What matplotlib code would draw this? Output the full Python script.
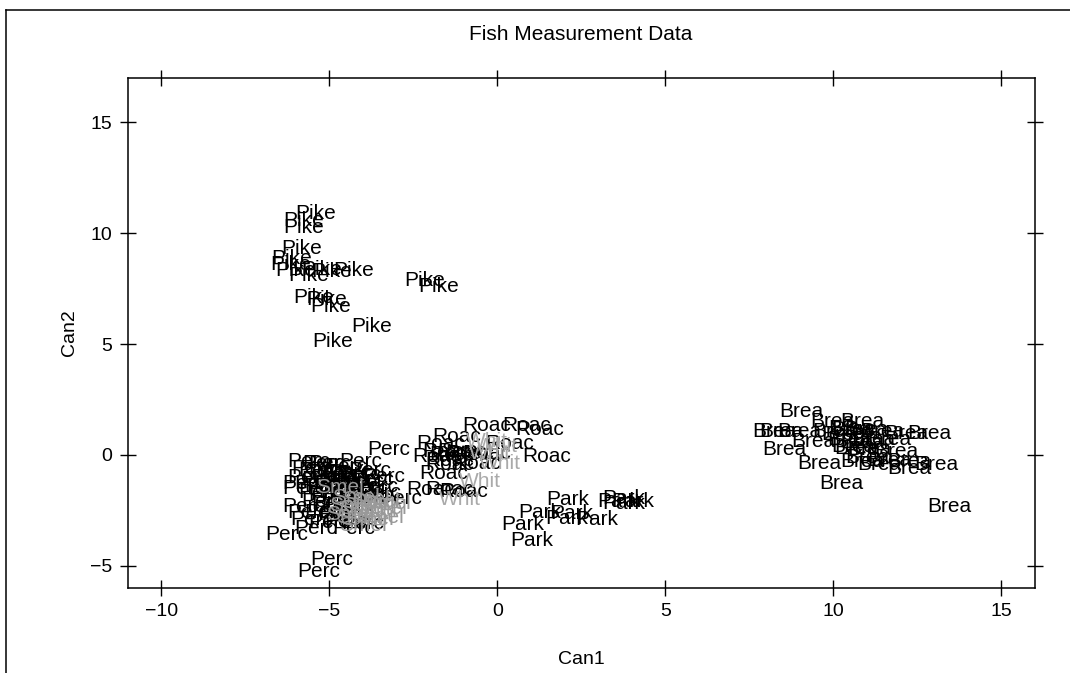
import matplotlib
matplotlib.use("Agg")
import matplotlib.pyplot as plt
from matplotlib.lines import Line2D

# canonical scores, one list pair per species
brea_x = [9.05, 9.98, 10.87, 8.25, 8.45, 9.0, 10.04, 10.58, 10.98, 11.47, 12.17, 12.86,
          9.39, 10.48, 10.87, 11.67, 8.55, 10.68, 11.08, 11.87, 9.59, 10.87, 11.67, 12.27,
          13.06, 12.27, 11.38, 10.24, 13.46, 10.3, 10.6, 11.2, 11.0, 10.5]
brea_y = [1.95, 1.49, 1.53, 1.05, 1.05, 1.05, 1.05, 1.13, 1.16, 1.05, 0.98, 0.98,
          0.60, 0.68, 0.54, 0.68, 0.23, 0.30, 0.23, 0.15, -0.37, -0.30, -0.23, -0.30,
          -0.45, -0.60, -0.45, -1.28, -2.33, 0.90, 0.40, 0.70, -0.10, 1.20]

roac_x = [-0.32, 0.87, 1.27, -1.21, -1.70, -1.06, 0.38, 1.47, -1.80, -1.41,
          -1.41, -1.60, -0.61, -2.00, -1.01, -1.41, -0.32, -1.31, -1.50, -0.81]
roac_y = [1.35, 1.35, 1.13, 0.83, 0.53, 0.15, 0.53, -0.08, -0.08, -0.45,
          -0.23, -0.82, -0.37, -1.58, -1.65, -1.58, 0.08, 0.00, 0.15, 0.08]

whit_x = [-0.32, -0.22, 0.08, -0.51, -1.11, -0.02]
whit_y = [0.60, 0.08, -0.37, -1.20, -2.03, 0.37]

park_x = [2.11, 3.75, 3.60, 4.04, 3.75, 1.27, 2.21, 2.06, 2.95, 0.77, 1.02]
park_y = [-2.00, -1.95, -2.10, -2.10, -2.20, -2.60, -2.63, -2.85, -2.90, -3.15, -3.86]

perc_x = [-3.24, -5.62, -4.08, -5.17, -3.39, -2.89, -5.77, -5.77, -5.77, -5.52,
          -6.26, -4.28, -4.92, -5.32, -5.40, -5.00,
          -5.5, -5.3, -5.0, -4.7, -4.4, -4.1, -3.8, -5.6, -5.2, -4.9,
          -4.6, -4.3, -4.0, -3.7, -5.4, -5.1, -4.8, -4.5, -4.2, -3.9,
          -3.6, -5.3, -5.0, -4.7, -4.4, -4.1, -3.8, -3.5, -5.2, -4.9,
          -4.6, -4.3, -5.6, -5.1, -4.7, -4.3, -4.5, -4.0, -5.0, -4.5]
perc_y = [0.23, -0.30, -0.30, -0.37, -0.98, -1.95, -1.28, -1.50, -2.33, -2.93,
          -3.60, -3.30, -4.73, -5.26, -3.30, -3.05,
          -0.6, -0.7, -0.8, -0.9, -0.8, -0.9, -0.7, -1.0, -1.1, -1.0,
          -1.2, -1.1, -1.2, -1.1, -1.3, -1.4, -1.3, -1.5, -1.4, -1.5,
          -1.4, -1.7, -1.8, -1.7, -1.9, -1.8, -1.9, -1.7, -2.1, -2.2,
          -2.3, -2.2, -2.6, -2.6, -2.7, -2.7, -3.0, -3.1, -0.4, -0.5]

pike_x = [-5.42, -5.77, -5.77, -5.81, -6.11, -6.16, -6.01, -5.62, -5.22, -4.28,
          -4.92, -2.15, -1.75, -5.47, -5.07, -4.97, -3.75, -4.89]
pike_y = [10.91, 10.59, 10.26, 9.31, 8.86, 8.60, 8.33, 8.11, 8.36, 8.33,
          8.26, 7.85, 7.61, 7.10, 7.01, 6.68, 5.81, 5.10]

smel_x = [-4.68, -4.2, -3.9, -3.6, -3.3, -4.3, -4.0, -3.7, -3.4, -4.4, -4.1, -3.8, -3.5, -4.0]
smel_y = [-1.49, -1.9, -2.0, -2.1, -2.2, -2.3, -2.4, -2.5, -2.4, -2.7, -2.8, -2.9, -2.8, -3.2]

groups = [("Brea", brea_x, brea_y, "black"),
          ("Roac", roac_x, roac_y, "black"),
          ("Whit", whit_x, whit_y, "#aaaaaa"),
          ("Park", park_x, park_y, "black"),
          ("Perc", perc_x, perc_y, "black"),
          ("Pike", pike_x, pike_y, "black"),
          ("Smel", smel_x, smel_y, "#999999")]

plt.rcParams['font.family'] = ['Liberation Sans', 'DejaVu Sans']

fig = plt.figure(figsize=(10.7, 6.73), dpi=100)
ax = fig.add_axes([127.7 / 1070, 1 - 588 / 673, (1035 - 127.7) / 1070, (588 - 78) / 673])

for name, xs, ys, col in groups:
    for x, y in zip(xs, ys):
        ax.text(x, y, name, ha="center", va="center", fontsize=15, color=col)

ax.set_xlim(-11, 16)
ax.set_ylim(-6, 17)
ax.set_xticks([-10, -5, 0, 5, 10, 15])
ax.set_yticks([-5, 0, 5, 10, 15])
ax.set_xticklabels(["\u221210", "\u22125", "0", "5", "10", "15"])
ax.set_yticklabels(["\u22125", "0", "5", "10", "15"])
ax.tick_params(direction="inout", length=12, width=1.0, labelsize=14,
               top=True, right=True, pad=5)
for s in ax.spines.values():
    s.set_linewidth(1.1)

ax.set_xlabel("Can1", fontsize=14, labelpad=22)
ax.set_ylabel("Can2", fontsize=14, labelpad=9)
fig.text(581 / 1070, 1 - 35 / 673, "Fish Measurement Data", ha="center", va="center", fontsize=15)

# outer frame (cut by the image edge)
fig.add_artist(Line2D([6 / 1070, 1], [1 - 10 / 673, 1 - 10 / 673], color="black", lw=1.1,
                      transform=fig.transFigure))
fig.add_artist(Line2D([6 / 1070, 6 / 1070], [0, 1 - 10 / 673], color="black", lw=1.1,
                      transform=fig.transFigure))

fig.savefig("out.png", dpi=100)
